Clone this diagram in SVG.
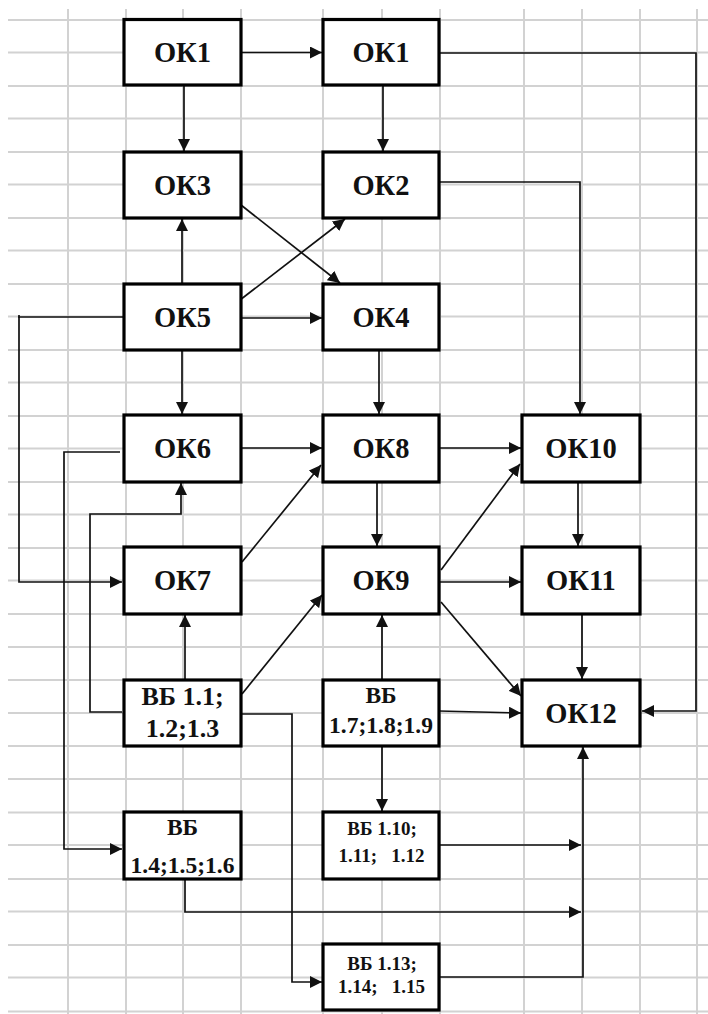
<svg xmlns="http://www.w3.org/2000/svg" width="708" height="1014" viewBox="0 0 708 1014">
<defs>
<marker id="ah" markerUnits="userSpaceOnUse" markerWidth="12" markerHeight="12" refX="12" refY="6" orient="auto">
<path d="M0,0 L12,6 L0,12 Z" fill="#111"/>
</marker>
<style>
.g line{stroke:#d2d2d2;stroke-width:2}
.node rect{fill:#fff;stroke:#000;stroke-width:3.2}
.node text{font-family:'Liberation Serif','Times New Roman',serif;font-weight:700;fill:#111;text-anchor:middle}
.ok{font-size:28.5px}
.vb1{font-size:26px}
.vb2{font-size:23.5px}
.vb3{font-size:19px}
.conn path{fill:none;stroke:#111;stroke-width:1.7}
.conn .a{marker-end:url(#ah)}
</style>
</defs>
<rect width="708" height="1014" fill="#fff"/>
<g class="g" id="grid">
<line x1="68" y1="9" x2="68" y2="1014"/>
<line x1="126" y1="9" x2="126" y2="1014"/>
<line x1="183" y1="9" x2="183" y2="1014"/>
<line x1="241" y1="9" x2="241" y2="1014"/>
<line x1="323" y1="9" x2="323" y2="1014"/>
<line x1="382" y1="9" x2="382" y2="1014"/>
<line x1="440" y1="9" x2="440" y2="1014"/>
<line x1="524" y1="9" x2="524" y2="1014"/>
<line x1="582" y1="9" x2="582" y2="1014"/>
<line x1="640" y1="9" x2="640" y2="1014"/>
<line x1="697" y1="9" x2="697" y2="1014"/>
<line x1="8" y1="20" x2="708" y2="20"/>
<line x1="8" y1="52.5" x2="708" y2="52.5"/>
<line x1="8" y1="86" x2="708" y2="86"/>
<line x1="8" y1="118.5" x2="708" y2="118.5"/>
<line x1="8" y1="152" x2="708" y2="152"/>
<line x1="8" y1="184.5" x2="708" y2="184.5"/>
<line x1="8" y1="218" x2="708" y2="218"/>
<line x1="8" y1="250.5" x2="708" y2="250.5"/>
<line x1="8" y1="284" x2="708" y2="284"/>
<line x1="8" y1="316.5" x2="708" y2="316.5"/>
<line x1="8" y1="350" x2="708" y2="350"/>
<line x1="8" y1="382.5" x2="708" y2="382.5"/>
<line x1="8" y1="416" x2="708" y2="416"/>
<line x1="8" y1="448.5" x2="708" y2="448.5"/>
<line x1="8" y1="482" x2="708" y2="482"/>
<line x1="8" y1="514.5" x2="708" y2="514.5"/>
<line x1="8" y1="548" x2="708" y2="548"/>
<line x1="8" y1="580.5" x2="708" y2="580.5"/>
<line x1="8" y1="614" x2="708" y2="614"/>
<line x1="8" y1="647" x2="708" y2="647"/>
<line x1="8" y1="680" x2="708" y2="680"/>
<line x1="8" y1="713" x2="708" y2="713"/>
<line x1="8" y1="746" x2="708" y2="746"/>
<line x1="8" y1="779" x2="708" y2="779"/>
<line x1="8" y1="812.5" x2="708" y2="812.5"/>
<line x1="8" y1="845" x2="708" y2="845"/>
<line x1="8" y1="879" x2="708" y2="879"/>
<line x1="8" y1="911.5" x2="708" y2="911.5"/>
<line x1="8" y1="945" x2="708" y2="945"/>
<line x1="8" y1="977.5" x2="708" y2="977.5"/>
<line x1="8" y1="1011.5" x2="708" y2="1011.5"/>
</g>
<g class="conn" id="connectors">
<path class="a" d="M241,52.5 H322"/>
<path class="a" d="M184,85 V151"/>
<path class="a" d="M383,85 V151"/>
<path class="a" d="M439,53 H696 V711 H642"/>
<path class="a" d="M436,182 H580 V414"/>
<path class="a" d="M241,205 L340,283"/>
<path class="a" d="M240,300 L345,219"/>
<path class="a" d="M182,284 V219"/>
<path class="a" d="M241,318 H322"/>
<path class="a" d="M123,317 H19 V582 H122"/>
<path d="M19,315 V318"/>
<path class="a" d="M182,350 V414"/>
<path class="a" d="M233,448 H322"/>
<path class="a" d="M242,562 L321,465"/>
<path class="a" d="M185,680 V615"/>
<path class="a" d="M242,694 L322,595"/>
<path class="a" d="M122,712 H90 V514 H181 V483"/>
<path class="a" d="M120,452 H64 V849 H122"/>
<path class="a" d="M241,714 H292 V982 H322"/>
<path class="a" d="M185,879 V912 H581"/>
<path class="a" d="M439,845 H581"/>
<path class="a" d="M439,977 H583 V747"/>
<path class="a" d="M439,711 L521,713"/>
<path class="a" d="M382,746 V811"/>
<path class="a" d="M382,680 V615"/>
<path class="a" d="M379,350 V414"/>
<path class="a" d="M377,482 V546"/>
<path class="a" d="M439,448 H521"/>
<path class="a" d="M441,570 L520,464"/>
<path class="a" d="M439,582 H521"/>
<path class="a" d="M441,602 L521,696"/>
<path class="a" d="M578,482 V546"/>
<path class="a" d="M582,614 V679"/>
</g>
<g class="node" id="ok1a"><rect x="124" y="19.5" width="117" height="65.5"/><text class="ok" x="182.5" y="62">ОК1</text></g>
<g class="node" id="ok1b"><rect x="323" y="19.5" width="116" height="65.5"/><text class="ok" x="381" y="62">ОК1</text></g>
<g class="node" id="ok3"><rect x="124" y="152" width="117" height="66"/><text class="ok" x="182.5" y="195">ОК3</text></g>
<g class="node" id="ok2"><rect x="323" y="152" width="116" height="66"/><text class="ok" x="381" y="195">ОК2</text></g>
<g class="node" id="ok5"><rect x="124" y="284" width="117" height="66"/><text class="ok" x="182.5" y="327">ОК5</text></g>
<g class="node" id="ok4"><rect x="323" y="284" width="116" height="66"/><text class="ok" x="381" y="327">ОК4</text></g>
<g class="node" id="ok6"><rect x="124" y="415" width="117" height="67"/><text class="ok" x="182.5" y="458">ОК6</text></g>
<g class="node" id="ok8"><rect x="323" y="415" width="116" height="67"/><text class="ok" x="381" y="458">ОК8</text></g>
<g class="node" id="ok10"><rect x="522" y="415" width="118" height="67"/><text class="ok" x="581" y="458">ОК10</text></g>
<g class="node" id="ok7"><rect x="124" y="547" width="117" height="67"/><text class="ok" x="182.5" y="590">ОК7</text></g>
<g class="node" id="ok9"><rect x="323" y="547" width="116" height="67"/><text class="ok" x="381" y="590">ОК9</text></g>
<g class="node" id="ok11"><rect x="522" y="547" width="118" height="67"/><text class="ok" x="581" y="590">ОК11</text></g>
<g class="node" id="vb1"><rect x="124" y="680" width="117" height="66"/><text class="vb1" x="182.5" y="705">ВБ 1.1;</text><text class="vb1" x="182.5" y="737">1.2;1.3</text></g>
<g class="node" id="vb7"><rect x="323" y="680" width="116" height="66"/><text class="vb2" x="381" y="703">ВБ</text><text class="vb2" x="381" y="733">1.7;1.8;1.9</text></g>
<g class="node" id="ok12"><rect x="522" y="680" width="118" height="66"/><text class="ok" x="581" y="723">ОК12</text></g>
<g class="node" id="vb4"><rect x="124" y="812" width="117" height="67"/><text class="vb2" x="182.5" y="835">ВБ</text><text class="vb2" x="182.5" y="873">1.4;1.5;1.6</text></g>
<g class="node" id="vb10"><rect x="323" y="812" width="116" height="67"/><text class="vb3" x="382" y="835">ВБ 1.10;</text><text class="vb3" x="381.5" y="862" xml:space="preserve">1.11;   1.12</text></g>
<g class="node" id="vb13"><rect x="323" y="944" width="116" height="66"/><text class="vb3" x="382" y="970">ВБ 1.13;</text><text class="vb3" x="381.5" y="993" xml:space="preserve">1.14;   1.15</text></g>
</svg>
